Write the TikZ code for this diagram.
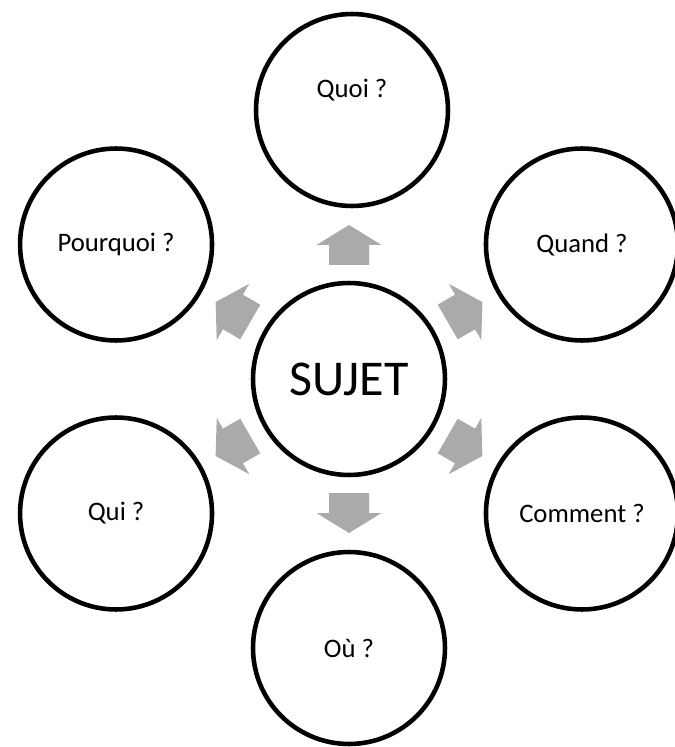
\documentclass[tikz,border=0pt]{standalone}
\usepackage{fontspec}
\setmainfont{Carlito}
\definecolor{arrowgray}{RGB}{170,170,170}

\begin{document}
\begin{tikzpicture}[x=0.02cm, y=0.02cm,
  qfont/.style={font=\fontsize{15.2}{18}\selectfont},
  bubble/.style={draw, circle, line width=2.6pt, minimum size=3.84cm, inner sep=0pt, qfont},
  core/.style={bubble, font=\fontsize{28.5}{33}\selectfont},
  block/.style={fill=arrowgray}]
\useasboundingbox (-349,-368) rectangle (325,379);
\node[core] (sujet) at (0,0) {SUJET};
\node[bubble, label={[qfont, yshift=0.4cm]center:Quoi ?}] (quoi) at (3,269) {};
\node[bubble] (quand) at (30:269) {Quand ?};
\node[bubble] (comment) at (-30:269) {Comment ?};
\node[bubble] (ou) at (-90:269) {Où ?};
\node[bubble] (qui) at (-150:269) {Qui ?};
\node[bubble] (pourquoi) at (150:269) {Pourquoi ?};
% block arrows around the subject
\foreach \a in {90,30,-30,-90,-150,150}
  \fill[block, rotate=\a] (114,-20) -- (134,-20) -- (134,-32.5) -- (154,0)
    -- (134,32.5) -- (134,20) -- (114,20) -- cycle;
\end{tikzpicture}
\end{document}
